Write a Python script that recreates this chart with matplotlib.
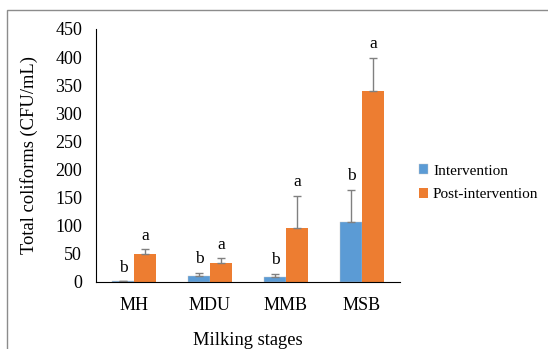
import matplotlib.pyplot as plt
import numpy as np
from matplotlib.patches import Rectangle

plt.rcParams['font.family'] = ['Liberation Serif', 'DejaVu Serif']

stages = ['MH', 'MDU', 'MMB', 'MSB']
intervention = [1, 11, 9, 107]
intervention_err = [0, 5, 6, 57]
post = [49, 34, 96, 339]
post_err = [9, 8, 57, 60]
int_letters = ['b', 'b', 'b', 'b']
post_letters = ['a', 'a', 'a', 'a']

fig = plt.figure(figsize=(5.48, 3.49), dpi=100)
ax = fig.add_axes([0.175, 0.192, 0.555, 0.725])

# chart frame (only left/top visible in the reference)
fig.patches.append(Rectangle((7 / 548, -0.1), 1.2, 1 - 10 / 349 + 0.1,
                             transform=fig.transFigure, fill=False,
                             edgecolor='#8c8c8c', lw=1.0))

x = np.arange(len(stages))
w = 0.29
ax.bar(x - w / 2, intervention, w, color='#5B9BD5', edgecolor='#c8c8c8', linewidth=0.3,
       label='Intervention')
ax.bar(x + w / 2, post, w, color='#ED7D31', label='Post-intervention')
ax.errorbar(x - w / 2, intervention, yerr=[np.zeros(4), intervention_err], fmt='none',
            ecolor='#808080', elinewidth=1, capsize=3, capthick=1)
ax.errorbar(x + w / 2, post, yerr=[np.zeros(4), post_err], fmt='none',
            ecolor='#808080', elinewidth=1, capsize=3, capthick=1)

for i in range(len(stages)):
    ax.annotate(int_letters[i], (x[i] - w / 2, intervention[i] + intervention_err[i]),
                xytext=(0, 4), textcoords='offset points', ha='center', va='bottom', fontsize=12.5)
    ax.annotate(post_letters[i], (x[i] + w / 2, post[i] + post_err[i]),
                xytext=(0, 4), textcoords='offset points', ha='center', va='bottom', fontsize=12.5)

ax.set_xlim(-0.5, 3.5)
ax.set_ylim(0, 450)
ax.set_yticks(np.arange(0, 451, 50))
ax.set_xticks(x)
ax.set_xticklabels(stages)
ax.tick_params(axis='both', length=0, labelsize=13)
ax.tick_params(axis='y', pad=10)
ax.tick_params(axis='x', pad=11)
for s in ['top', 'right']:
    ax.spines[s].set_visible(False)
ax.spines['left'].set_linewidth(0.8)
ax.spines['bottom'].set_linewidth(0.8)

ax.set_ylabel('Total coliforms (CFU/mL)', fontsize=13.3, labelpad=12)
ax.set_xlabel('Milking stages', fontsize=13.3, labelpad=13)

fig.legend(loc='center left', bbox_to_anchor=(0.765, 0.476), frameon=False, fontsize=11,
           handlelength=0.6, handleheight=0.6, handletextpad=0.3, labelspacing=0.7,
           borderaxespad=0, borderpad=0)

fig.savefig('out.png', dpi=100)
